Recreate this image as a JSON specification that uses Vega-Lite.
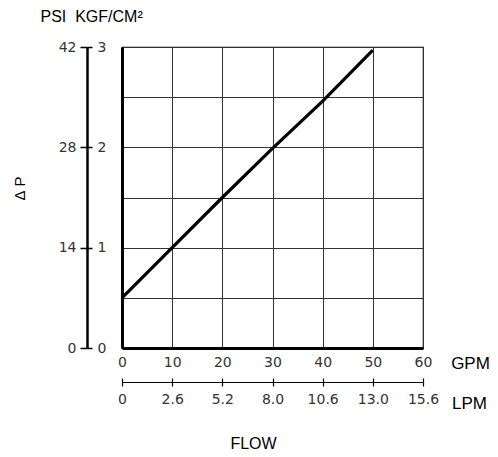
{
  "$schema": "https://vega.github.io/schema/vega-lite/v6.json",
  "width": 301,
  "height": 301,
  "autosize": "none",
  "padding": {"left": 122, "top": 47, "right": 75, "bottom": 109},
  "background": "white",
  "config": {
    "view": {"stroke": "#000", "strokeWidth": 1.2},
    "axis": {
      "labelFont": "DejaVu Sans",
      "labelFontSize": 14,
      "labelColor": "#333",
      "labelFlush": false,
      "labelOverlap": false,
      "titleFont": "Liberation Sans",
      "titleFontWeight": "normal",
      "titleFontSize": 17,
      "titleColor": "#000",
      "domainColor": "#000",
      "tickColor": "#000"
    }
  },
  "data": {
    "values": [
      {"gpm": 0, "kgf": 0.5},
      {"gpm": 10, "kgf": 1.0},
      {"gpm": 20, "kgf": 1.5},
      {"gpm": 30, "kgf": 1.99},
      {"gpm": 40, "kgf": 2.46},
      {"gpm": 50, "kgf": 2.97}
    ]
  },
  "resolve": {"axis": {"x": "independent", "y": "independent"}},
  "layer": [
    {
      "mark": {"type": "point", "opacity": 0},
      "encoding": {
        "x": {"field": "gpm", "type": "quantitative",
          "scale": {"domain": [0, 60], "nice": false},
          "axis": {"orient": "bottom", "grid": true, "gridColor": "#333", "gridWidth": 1, "gridOpacity": 1,
            "values": [0, 10, 20, 30, 40, 50, 60], "domain": true, "domainWidth": 3, "ticks": false, "labels": false, "title": null}},
        "y": {"field": "kgf", "type": "quantitative",
          "scale": {"domain": [0, 3], "nice": false},
          "axis": {"orient": "left", "grid": true, "gridColor": "#333", "gridWidth": 1, "gridOpacity": 1,
            "values": [0, 0.5, 1, 1.5, 2, 2.5, 3], "domain": true, "domainWidth": 3, "ticks": false, "labels": false, "title": null}}
      }
    },
    {
      "mark": {"type": "line", "color": "#000", "strokeWidth": 3.2},
      "encoding": {
        "x": {"field": "gpm", "type": "quantitative",
          "axis": {"orient": "bottom", "offset": 0, "domain": false, "ticks": false,
            "values": [0, 10, 20, 30, 40, 50, 60], "labelPadding": 7,
            "title": "GPM", "titleX": 348, "titleY": 15, "titleAlign": "center", "titleBaseline": "middle", "titleAngle": 0}},
        "y": {"field": "kgf", "type": "quantitative",
          "axis": {"orient": "left", "offset": 35, "domain": true, "domainWidth": 2.5,
            "tickSize": 7, "tickWidth": 1.5, "values": [0, 1, 2, 3],
            "labelExpr": "datum.value * 14", "labelPadding": 4,
            "title": "Δ\u00a0P", "titleX": -68, "titleY": 141, "titleAngle": 270, "titleAlign": "center", "titleBaseline": "middle", "titleFontSize": 15}}
      }
    },
    {
      "mark": {"type": "point", "opacity": 0},
      "encoding": {
        "x": {"field": "gpm", "type": "quantitative",
          "axis": {"orient": "bottom", "offset": 34, "domain": true, "domainWidth": 1.2,
            "tickSize": 4, "tickWidth": 1.2, "values": [0, 10, 20, 30, 40, 50, 60],
            "labelExpr": "['0','2.6','5.2','8.0','10.6','13.0','15.6'][round(datum.value / 10)]",
            "labelPadding": 6,
            "title": "LPM", "titleX": 347, "titleY": 21, "titleAlign": "center", "titleBaseline": "middle", "titleAngle": 0}},
        "y": {"field": "kgf", "type": "quantitative",
          "axis": {"orient": "left", "offset": 35, "domain": false,
            "tickSize": -5, "tickWidth": 1.5, "values": [0, 1, 2, 3],
            "labelAlign": "left", "labelPadding": -5,
            "title": "PSI\u00a0\u00a0KGF/CM²", "titleX": -47, "titleY": -31, "titleAngle": 0, "titleAlign": "left", "titleBaseline": "middle", "titleFontSize": 16}}
      }
    },
    {
      "mark": {"type": "point", "opacity": 0},
      "encoding": {
        "x": {"field": "gpm", "type": "quantitative",
          "axis": {"orient": "bottom", "offset": 34, "domain": false,
            "tickSize": -4, "tickWidth": 1.2, "values": [0, 10, 20, 30, 40, 50, 60],
            "labels": false,
            "title": "FLOW", "titleX": 131, "titleY": 61, "titleAlign": "center", "titleBaseline": "middle", "titleAngle": 0, "titleFontSize": 16}},
        "y": {"field": "kgf", "type": "quantitative", "axis": null}
      }
    }
  ]
}
